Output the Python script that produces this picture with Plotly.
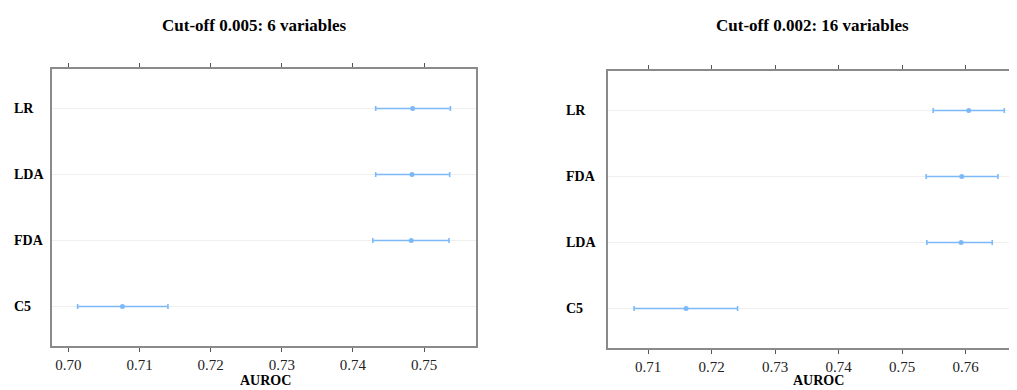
import plotly.graph_objects as go

# page has an 8px body margin: the figure is drawn at (8, 8)
OFF = 8
W, H = 1017 - OFF, 390 - OFF

# Panel 1: Cut-off 0.005
models_1 = ["C5", "FDA", "LDA", "LR"]
mean_1 = [0.7076, 0.7482, 0.7483, 0.7484]
low_1 = [0.7013, 0.7428, 0.7432, 0.7432]
high_1 = [0.7140, 0.7535, 0.7536, 0.7537]

# Panel 2: Cut-off 0.002
models_2 = ["C5", "LDA", "FDA", "LR"]
mean_2 = [0.7160, 0.7593, 0.7594, 0.7605]
low_2 = [0.7078, 0.7539, 0.7538, 0.7549]
high_2 = [0.7241, 0.7642, 0.7651, 0.7661]

ticks_1 = [0.70, 0.71, 0.72, 0.73, 0.74, 0.75]
ticks_2 = [0.71, 0.72, 0.73, 0.74, 0.75, 0.76]

titles = ["Cut-off 0.005: 6 variables", "Cut-off 0.002: 16 variables"]
xlabel = "AUROC"

COL = "#7db9f7"
AXC = "#8a8a8a"
FONT = "Liberation Serif"


def px_x(p):
    return (p - OFF) / W


def px_y(p):
    return 1 - (p - OFF) / H


fig = go.Figure()

for i, (models, mean, low, high) in enumerate(
    [(models_1, mean_1, low_1, high_1), (models_2, mean_2, low_2, high_2)]
):
    ax = "" if i == 0 else "2"
    fig.add_trace(
        go.Scatter(
            x=mean,
            y=models,
            mode="markers",
            marker=dict(size=5, color=COL, line=dict(width=0)),
            error_x=dict(
                type="data",
                symmetric=False,
                array=[h - m for h, m in zip(high, mean)],
                arrayminus=[m - l for m, l in zip(mean, low)],
                color=COL,
                thickness=1.6,
                width=2.5,
            ),
            xaxis="x" + ax,
            yaxis="y" + ax,
            showlegend=False,
            hoverinfo="skip",
        )
    )

common_x = dict(
    showgrid=False,
    zeroline=False,
    showline=True,
    linecolor=AXC,
    linewidth=1.5,
    mirror="allticks",
    ticks="outside",
    ticklen=4,
    tickwidth=1,
    tickcolor="#555",
    tickformat=".2f",
    ticklabelstandoff=0,
    tickfont=dict(family=FONT, size=15, color="#222"),
)
common_y = dict(
    type="category",
    showgrid=True,
    gridcolor="#efefef",
    gridwidth=1,
    zeroline=False,
    showline=True,
    linecolor=AXC,
    linewidth=1.5,
    ticks="",
    showticklabels=False,
    range=[-0.6, 3.6],
)

fig.update_layout(
    width=W,
    height=H,
    margin=dict(l=0, r=0, t=0, b=0),
    paper_bgcolor="white",
    plot_bgcolor="white",
    xaxis=dict(
        common_x,
        domain=[px_x(52), px_x(476)],
        range=[0.6977, 0.7573],
        tickvals=ticks_1,
        anchor="y",
    ),
    yaxis=dict(
        common_y,
        domain=[px_y(346), px_y(69)],
        mirror=True,
        anchor="x",
        categoryorder="array",
        categoryarray=models_1,
    ),
    xaxis2=dict(
        common_x,
        domain=[px_x(608), 1.0],
        range=[0.7037, 0.7681],
        tickvals=ticks_2,
        anchor="y2",
    ),
    yaxis2=dict(
        common_y,
        domain=[px_y(348), px_y(71)],
        mirror=False,
        anchor="x2",
        categoryorder="array",
        categoryarray=models_2,
    ),
)

annotations = []
# titles
for xc, t in zip([254.5, 812], titles):
    annotations.append(
        dict(
            text="<b>%s</b>" % t,
            x=px_x(xc),
            y=px_y(26),
            xref="paper",
            yref="paper",
            xanchor="center",
            yanchor="middle",
            showarrow=False,
            font=dict(family=FONT, size=17, color="black"),
        )
    )
# x-axis titles
for xc in [265, 818]:
    annotations.append(
        dict(
            text="<b>%s</b>" % xlabel,
            x=px_x(xc),
            y=px_y(390),
            xref="paper",
            yref="paper",
            xanchor="center",
            yanchor="bottom",
            showarrow=False,
            font=dict(family=FONT, size=14, color="black"),
        )
    )
# left-aligned category labels
for models, xl, yref in [(models_1, 12, "y"), (models_2, 564, "y2")]:
    for m in models:
        annotations.append(
            dict(
                text="<b>%s</b>" % m,
                x=px_x(xl),
                y=m,
                xref="paper",
                yref=yref,
                xanchor="left",
                yanchor="middle",
                showarrow=False,
                font=dict(family=FONT, size=14, color="black"),
            )
        )
fig.update_layout(annotations=annotations)

fig.write_html("out.html")
